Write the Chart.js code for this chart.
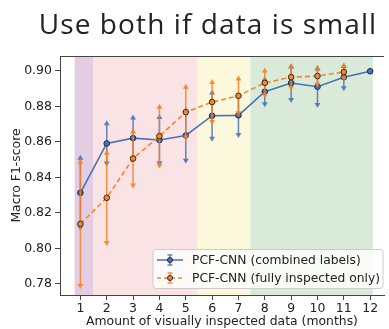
<!DOCTYPE html>
<html>
<head>
<meta charset="utf-8">
<script src="https://cdn.jsdelivr.net/npm/chart.js@4/dist/chart.umd.min.js"></script>
<style>
  html, body { margin: 0; padding: 0; background: #fff; overflow: hidden; }
  #wrap { position: relative; width: 389px; height: 329px; }
</style>
</head>
<body>
<div id="wrap"><canvas id="chart"></canvas></div>
<script>
// --- data ---
const months = [1, 2, 3, 4, 5, 6, 7, 8, 9, 10, 11, 12];
const yTicks = [0.78, 0.80, 0.82, 0.84, 0.86, 0.88, 0.90];

const combinedLabel = 'PCF-CNN (combined labels)';
const combinedVals = [0.8313, 0.8591, 0.8621, 0.8610, 0.8636, 0.8747, 0.8749, 0.8882, 0.8931, 0.8910, 0.8964, 0.8997];
const combinedErr  = [0.0197, 0.0113, 0.0116, 0.0130, 0.0143, 0.0130, 0.0111, 0.0070, 0.0095, 0.0103, 0.0063, 0.0005];

const fullLabel = 'PCF-CNN (fully inspected only)';
const fullVals = [0.8138, 0.8285, 0.8506, 0.8632, 0.8767, 0.8824, 0.8859, 0.8932, 0.8964, 0.8970, 0.8993, null];
const fullErr  = [0.0350, 0.0254, 0.0152, 0.0166, 0.0143, 0.0112, 0.0098, 0.0070, 0.0059, 0.0047, 0.0037, null];

// shaded month ranges
const bandStarts = [0.78, 1.5, 5.45, 7.45];
const bandEnds   = [1.5, 5.45, 7.45, 12.1];
const bandColors = ['#e2cde3', '#fae3e4', '#fbf8dc', '#d9ead8'];

const TITLE = 'Use both if data is small';
const BLUE = '#4a71b5';
const ORANGE = '#f5852f';
const TICK_FONT = { family: 'DejaVu Sans', size: 12.5 };
const errArrays = [combinedErr, fullErr];
const errColors = ['rgba(74,113,181,0.85)', 'rgba(248,128,30,0.85)'];

function toPoints(vals) {
    return months.map((m, i) => ({ x: m, y: vals[i] }));
}

function triangle(ctx, x, y, up) {
    ctx.beginPath();
    if (up) {
        ctx.moveTo(x, y - 3); ctx.lineTo(x + 3, y + 2); ctx.lineTo(x - 3, y + 2);
    } else {
        ctx.moveTo(x, y + 3); ctx.lineTo(x + 3, y - 2); ctx.lineTo(x - 3, y - 2);
    }
    ctx.closePath();
    ctx.fill();
}

const bandsPlugin = {
    id: 'bands',
    beforeDatasetsDraw(chart) {
        const { ctx, chartArea, scales } = chart;
        ctx.save();
        for (let i = 0; i < bandStarts.length; i++) {
            const x0 = scales.x.getPixelForValue(bandStarts[i]);
            const x1 = scales.x.getPixelForValue(bandEnds[i]);
            ctx.fillStyle = bandColors[i];
            ctx.fillRect(x0, chartArea.top, x1 - x0, chartArea.bottom - chartArea.top);
        }
        ctx.restore();
    }
};

const errorBarsPlugin = {
    id: 'errorBars',
    beforeDatasetDraw(chart, args) {
        const ds = chart.data.datasets[args.index];
        const errs = errArrays[args.index];
        const { ctx, scales } = chart;
        ctx.save();
        ctx.strokeStyle = errColors[args.index];
        ctx.fillStyle = errColors[args.index];
        ctx.lineWidth = 1.5;
        ds.data.forEach((p, i) => {
            if (p.y == null || errs[i] == null) return;
            const px = scales.x.getPixelForValue(p.x);
            const yt = scales.y.getPixelForValue(p.y + errs[i]);
            const yb = scales.y.getPixelForValue(p.y - errs[i]);
            ctx.beginPath();
            ctx.moveTo(px, yt); ctx.lineTo(px, yb);
            ctx.stroke();
            if (errs[i] > 0.002) {
                triangle(ctx, px, yt, true);
                triangle(ctx, px, yb, false);
            }
        });
        ctx.restore();
    }
};

const decorPlugin = {
    id: 'decor',
    afterDraw(chart) {
        const { ctx, chartArea } = chart;
        ctx.save();
        // top spine
        ctx.strokeStyle = '#444';
        ctx.lineWidth = 1;
        ctx.beginPath();
        ctx.moveTo(chartArea.left, chartArea.top + 0.5);
        ctx.lineTo(chartArea.right, chartArea.top + 0.5);
        ctx.stroke();

        // title
        ctx.fillStyle = '#222';
        ctx.font = '28px "Open Sans"';
        ctx.letterSpacing = '1.1px';
        ctx.textAlign = 'center';
        ctx.textBaseline = 'alphabetic';
        ctx.fillText(TITLE, 208, 33.5);
        ctx.letterSpacing = '0px';

        // legend
        ctx.font = '12.3px "DejaVu Sans"';
        const labels = [combinedLabel, fullLabel];
        const textW = Math.max(...labels.map(l => ctx.measureText(l).width));
        const bx = chartArea.left + 93, by = chartArea.bottom - 46;
        const bw = 39 + textW + 3, bh = 39;
        ctx.fillStyle = 'rgba(255,255,255,0.8)';
        ctx.strokeStyle = '#cccccc';
        ctx.beginPath();
        ctx.roundRect(bx, by + 0.5, bw, bh, 3);
        ctx.fill();
        ctx.stroke();

        const colors = [BLUE, ORANGE];
        const dashes = [[], [4, 3]];
        labels.forEach((lab, i) => {
            const ry = by + 11 + i * 18;
            const lx = bx + 4, cx = lx + 13;
            ctx.strokeStyle = colors[i];
            ctx.lineWidth = 1.5;
            ctx.setLineDash(dashes[i]);
            ctx.beginPath();
            ctx.moveTo(lx, ry); ctx.lineTo(lx + 26, ry);
            ctx.stroke();
            ctx.setLineDash([]);
            ctx.strokeStyle = errColors[i];
            ctx.beginPath();
            ctx.moveTo(cx, ry - 5); ctx.lineTo(cx, ry + 5);
            ctx.moveTo(cx - 2.5, ry - 5); ctx.lineTo(cx + 2.5, ry - 5);
            ctx.moveTo(cx - 2.5, ry + 5); ctx.lineTo(cx + 2.5, ry + 5);
            ctx.stroke();
            ctx.fillStyle = colors[i];
            ctx.strokeStyle = '#1f2a44';
            ctx.lineWidth = 1;
            ctx.beginPath();
            ctx.arc(cx, ry, 2.5, 0, Math.PI * 2);
            ctx.fill(); ctx.stroke();
            ctx.fillStyle = '#222';
            ctx.textAlign = 'left';
            ctx.textBaseline = 'middle';
            ctx.fillText(lab, bx + 39, ry + 1);
        });
        ctx.restore();
    }
};

const ctx = document.getElementById('chart').getContext('2d');
const chart = new Chart(ctx, {
    type: 'line',
    data: {
        datasets: [{
            label: combinedLabel,
            data: toPoints(combinedVals),
            borderColor: BLUE,
            backgroundColor: BLUE,
            borderWidth: 1.6,
            pointRadius: 2.8,
            pointBorderColor: '#1f2a44',
            pointBorderWidth: 1,
            pointBackgroundColor: BLUE,
            tension: 0,
            order: 2
        }, {
            label: fullLabel,
            data: toPoints(fullVals),
            borderColor: ORANGE,
            backgroundColor: ORANGE,
            borderWidth: 1.6,
            borderDash: [5, 3],
            pointRadius: 2.8,
            pointBorderColor: '#3a2a1a',
            pointBorderWidth: 1,
            pointBackgroundColor: ORANGE,
            tension: 0,
            spanGaps: false,
            order: 1
        }]
    },
    options: {
        responsive: true,
        maintainAspectRatio: false,
        animation: false,
        layout: { padding: { top: 56, left: 0, right: 0, bottom: 0 } },
        plugins: {
            legend: { display: false },
            tooltip: { enabled: false }
        },
        scales: {
            x: {
                type: 'linear',
                min: 0.226,
                max: 12.525,
                afterFit: s => { s.height = 34; },
                afterBuildTicks: s => { s.ticks = months.map(v => ({ value: v })); },
                ticks: { font: TICK_FONT, color: '#222', padding: 1, maxRotation: 0, callback: v => String(v) },
                grid: { drawOnChartArea: false, drawTicks: true, tickLength: 5, color: '#444' },
                border: { color: '#444', width: 1 },
                title: {
                    display: true,
                    text: 'Amount of visually inspected data (months)',
                    font: { family: 'DejaVu Sans', size: 12.4 },
                    color: '#222',
                    padding: { top: 0, bottom: 0 }
                }
            },
            y: {
                min: 0.7738,
                max: 0.9083,
                afterFit: s => { s.width = 60; },
                afterBuildTicks: s => { s.ticks = yTicks.map(v => ({ value: v })); },
                ticks: { font: TICK_FONT, color: '#222', padding: 3, callback: v => v.toFixed(2) },
                grid: { drawOnChartArea: false, drawTicks: true, tickLength: 5, color: '#444' },
                border: { color: '#444', width: 1 },
                title: {
                    display: true,
                    text: 'Macro F1-score',
                    font: { family: 'DejaVu Sans', size: 12.4 },
                    color: '#222',
                    padding: { top: 9, bottom: 0 }
                }
            }
        }
    },
    plugins: [bandsPlugin, errorBarsPlugin, decorPlugin]
});
</script>
</body>
</html>
